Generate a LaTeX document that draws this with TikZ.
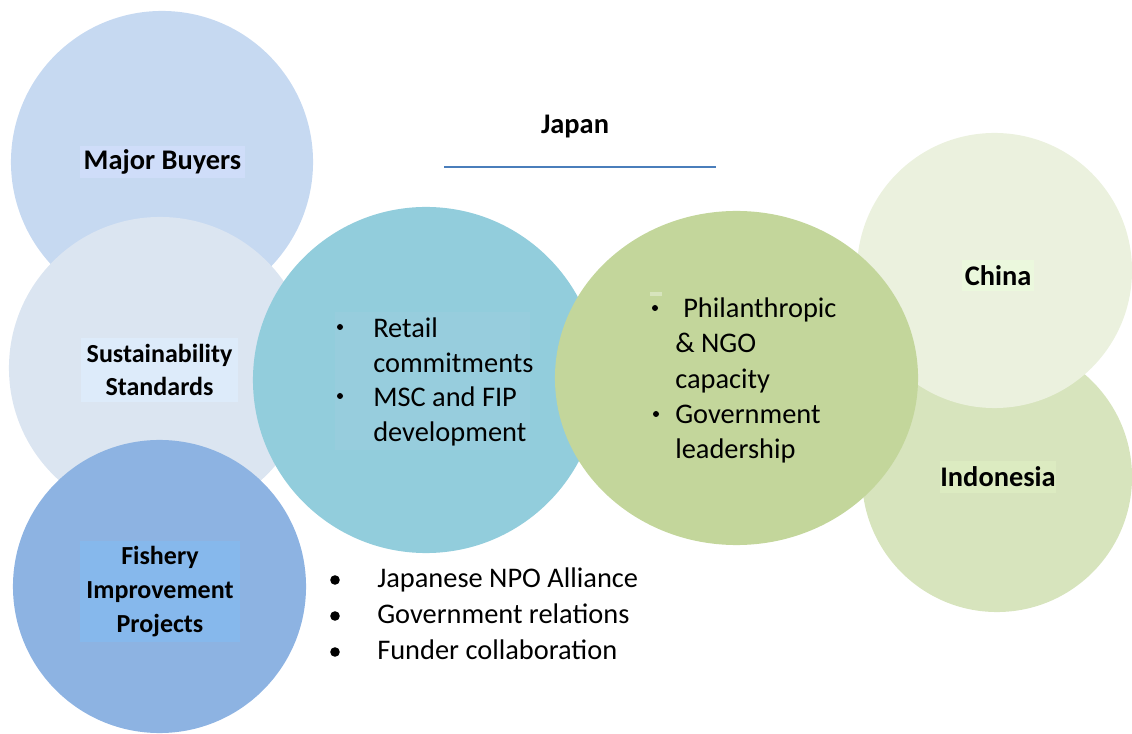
\documentclass[tikz,border=0pt]{standalone}
\usepackage{fontspec}
\setmainfont{Carlito}
\usetikzlibrary{shapes.geometric}
\definecolor{buyersBlue}{HTML}{C6D9F1}
\definecolor{buyersBox}{HTML}{CFDDF9}
\definecolor{standardsGray}{HTML}{DBE5F1}
\definecolor{standardsBox}{HTML}{DDEBFA}
\definecolor{fisheryBlue}{HTML}{8DB3E2}
\definecolor{fisheryBox}{HTML}{86B8EC}
\definecolor{tealFill}{HTML}{92CDDC}
\definecolor{tealBox}{HTML}{97CDDD}
\definecolor{greenFill}{HTML}{C3D69B}
\definecolor{chinaFill}{HTML}{EBF1DE}
\definecolor{chinaBox}{HTML}{EBF8DD}
\definecolor{indoFill}{HTML}{D7E4BD}
\definecolor{indoBox}{HTML}{DCEBC1}
\definecolor{ruleBlue}{HTML}{4A7EBB}
\tikzset{
  every node/.style={font=\fontsize{20.2}{24.5}\selectfont},
  ball/.style={circle, draw=none, inner sep=0pt},
  oval/.style={ellipse, draw=none, inner sep=0pt},
  label/.style={font=\fontsize{20.2}{24.2}\selectfont\bfseries, align=center,
                inner sep=0pt},
  smalllabel/.style={label, font=\fontsize{18.5}{24}\selectfont\bfseries},
  body/.style={anchor=base west, inner sep=0pt},
  dot/.style={circle, fill=black, inner sep=0pt, minimum size=1.5mm},
  bigdot/.style={dot, minimum size=2.4mm},
}

\begin{document}
\begin{tikzpicture}[x=0.025cm, y=-0.025cm]
\useasboundingbox (0,0) rectangle (1132,734);

% ------------------------------------------------------ the left column
\node[ball, fill=buyersBlue, minimum size=7.55cm] (buyers) at (162,162) {};
\node[ball, fill=standardsGray, minimum size=7.55cm] (standards) at (160,368) {};
\node[ball, fill=fisheryBlue, minimum size=7.325cm] (fishery) at (159.5,586.5) {};

\node[label, fill=buyersBox, minimum width=4.125cm, minimum height=0.8cm]
  (buyersLbl) at (162.5,162) {Major Buyers};
\node[smalllabel, fill=standardsBox, minimum width=3.925cm, minimum height=1.6cm]
  (standardsLbl) at (159.5,370) {Sustainability\\Standards};
\node[smalllabel, fill=fisheryBox, minimum width=4cm, minimum height=2.525cm]
  (fisheryLbl) at (160,591.5) {Fishery\\Improvement\\Projects};

% ------------------------------------------------------ the right column
\node[ball, fill=indoFill, minimum size=6.75cm] (indonesia) at (997,477) {};
\node[ball, fill=chinaFill, minimum size=6.875cm] (china) at (994.5,270.5) {};

\node[label, fill=chinaBox, minimum width=1.8cm, minimum height=0.775cm]
  (chinaLbl) at (998,275.5) {China};
\node[label, fill=indoBox, minimum width=2.9cm, minimum height=0.8cm]
  (indoLbl) at (998,477) {Indonesia};

% ------------------------------------------------------ the middle pair
\node[ball, fill=tealFill, minimum size=8.65cm] (teal) at (426,380) {};
\node[oval, fill=greenFill, minimum width=9.075cm, minimum height=8.35cm]
  (green) at (736.5,378) {};

% what the teal circle holds
\node[fill=tealBox, inner sep=0pt, minimum width=4.875cm, minimum height=3.45cm]
  (tealBoxNode) at (432.5,381) {};
\foreach \t/\y [count=\i] in {Retail/338, commitments/372.5,
                              MSC and FIP/407, development/441.5}
  \node[body] (teal\i) at (373,\y) {\t};
\node[dot] (tealDot1) at (340,327) {};
\node[dot] (tealDot2) at (340,396) {};

% what the green circle holds
\node[fill=indoFill, inner sep=0pt, minimum width=0.3cm, minimum height=0.1cm]
  (greenMark) at (655.5,294) {};
\node[body] (green1) at (683,318) {Philanthropic};
\foreach \t/\y [count=\i from 2] in {\& NGO/353, capacity/388.5,
                                     Government/423.5, leadership/458.5}
  \node[body] (green\i) at (675,\y) {\t};
\node[dot] (greenDot1) at (655,308) {};
\node[dot] (greenDot2) at (656,414) {};

% ------------------------------------------------------ the title
\node[label, anchor=base] (japan) at (575,134) {Japan};
\coordinate (ruleL) at (444,167);
\coordinate (ruleR) at (716,167);
\draw[ruleBlue, line width=2pt] (ruleL) -- (ruleR);

% ------------------------------------------------------ the list below
\foreach \t/\y [count=\i] in {Japanese NPO Alliance/587,
                              Government relations/623,
                              Funder collaboration/659}{
  \node[body] (list\i) at (377,\y) {\t};
  \node[bigdot] (listDot\i) at (335,\y-7) {};}

\end{tikzpicture}
\end{document}
